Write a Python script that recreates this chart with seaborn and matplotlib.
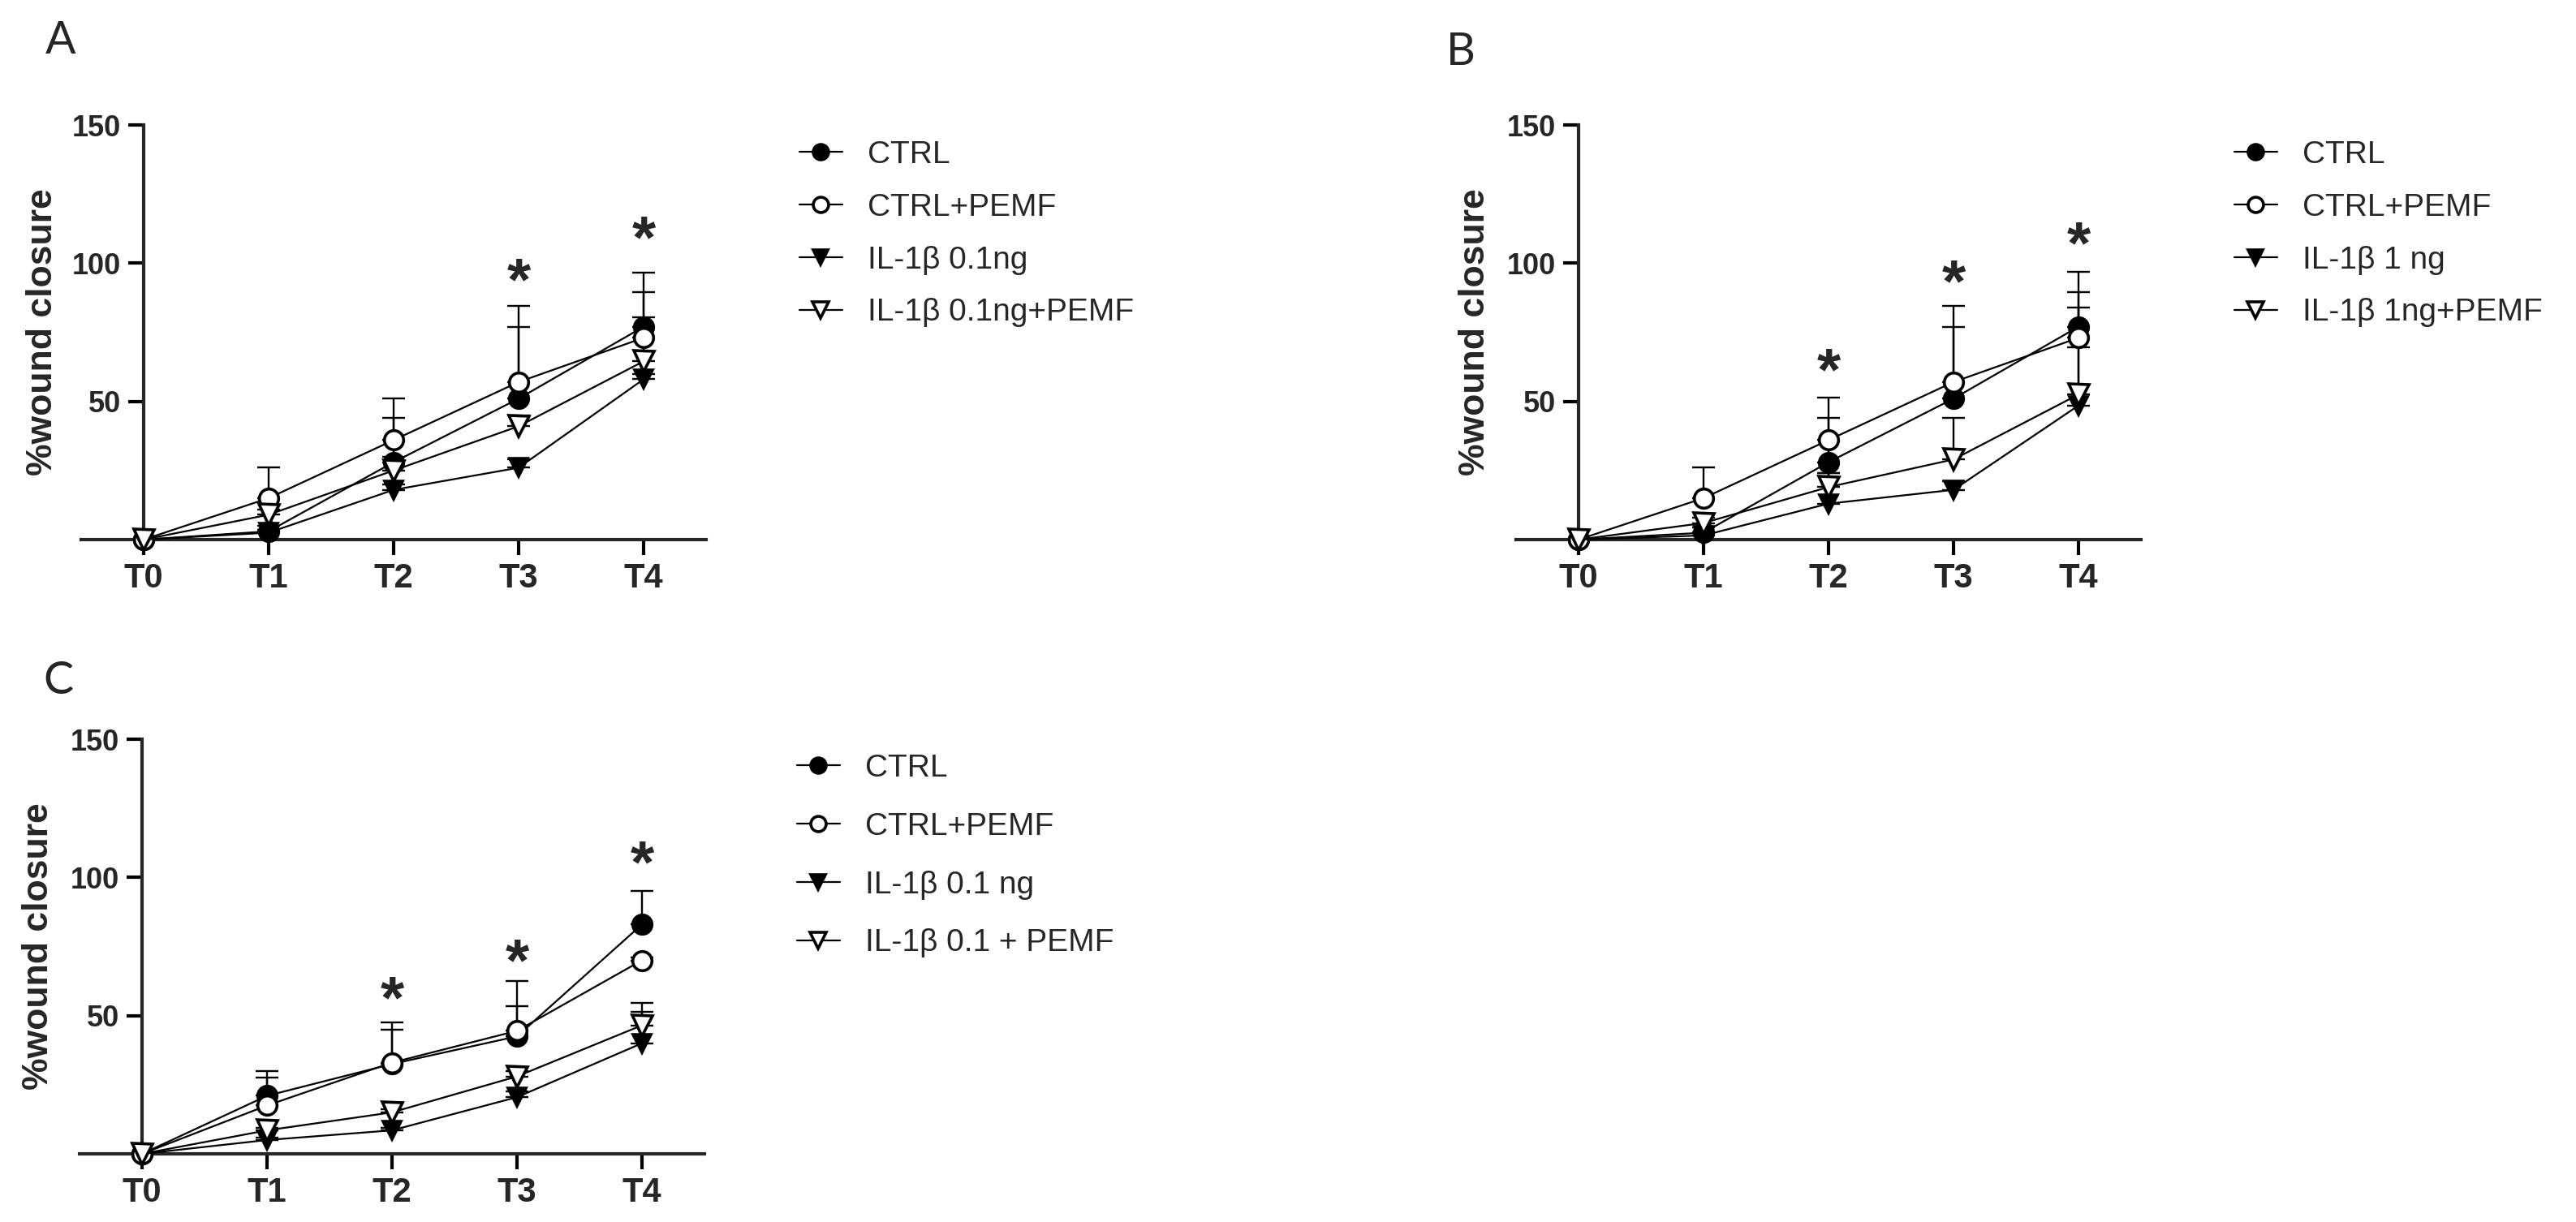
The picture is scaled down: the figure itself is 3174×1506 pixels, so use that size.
import matplotlib
matplotlib.use('Agg')
import matplotlib.pyplot as plt
import seaborn as sns
from matplotlib.transforms import offset_copy

# time points
TIMES = ['T0', 'T1', 'T2', 'T3', 'T4']
POS = [0, 1, 2, 3, 4]

# panel A (IL-1b 0.1 ng)
A_CTRL = [0, 3, 28, 51, 77]
A_CTRL_ERR = [0, 2, 16, 26, 19.5]
A_PEMF = [0, 15, 36, 57, 73]
A_PEMF_ERR = [0, 11, 15, 27.5, 16.5]
A_IL = [0, 2.5, 18, 26, 58]
A_IL_ERR = [0, 1, 2, 3, 2]
A_ILP = [0, 9, 25, 41, 64.5]
A_ILP_ERR = [0, 2, 5, 4, 16]
A_LABELS = ['CTRL', 'CTRL+PEMF', 'IL-1β 0.1ng', 'IL-1β 0.1ng+PEMF']
A_STAR_X = [3, 4]
A_STAR_Y = [96.7, 112]

# panel B (IL-1b 1 ng)
B_CTRL = [0, 2.5, 28, 51, 77]
B_CTRL_ERR = [0, 2, 16, 26, 20]
B_PEMF = [0, 15, 36, 57, 73]
B_PEMF_ERR = [0, 11, 15.5, 27.5, 16.5]
B_IL = [0, 1.5, 13, 18, 48.5]
B_IL_ERR = [0, 1, 11, 3, 21]
B_ILP = [0, 6, 19, 29, 52.5]
B_ILP_ERR = [0, 2, 5, 15, 31.5]
B_LABELS = ['CTRL', 'CTRL+PEMF', 'IL-1β 1 ng', 'IL-1β 1ng+PEMF']
B_STAR_X = [2, 3, 4]
B_STAR_Y = [64, 96, 110]

# panel C (IL-1b 0.1 ng, second experiment)
C_CTRL = [0, 21, 32.5, 42.5, 83]
C_CTRL_ERR = [0, 9, 15, 20, 12]
C_PEMF = [0, 17.5, 33, 44.5, 70]
C_PEMF_ERR = [0, 10, 12, 9, 1]
C_IL = [0, 5, 8.5, 20.5, 40]
C_IL_ERR = [0, 1, 1, 2, 11.5]
C_ILP = [0, 8.5, 15, 28, 46.5]
C_ILP_ERR = [0, 1, 1, 2, 8]
C_LABELS = ['CTRL', 'CTRL+PEMF', 'IL-1β 0.1 ng', 'IL-1β 0.1 + PEMF']
C_STAR_X = [2, 3, 4]
C_STAR_Y = [59, 72.5, 108]

sns.set_style('ticks')
plt.rcParams['font.family'] = ['Liberation Sans', 'DejaVu Sans']

W, H = 3174, 1506
fig = plt.figure(figsize=(W / 100, H / 100), dpi=100)

# marker style per group: marker, face colour, size
STYLES = [('o', 'black', 17), ('o', 'white', 17), ('v', 'black', 16), ('v', 'white', 18)]
STAR_FS = 54


def panel(rect, series, errs, labels, star_x, star_y, letter, letter_xy, label_x, leg_xy, leg_space):
    ax = fig.add_axes(rect)
    # y axis sits on T0, x axis runs a half step beyond both ends
    ax.spines['left'].set_position(('data', 0))
    handles = []
    for k, (vals, err, lab) in enumerate(zip(series, errs, labels)):
        mk, fc, ms = STYLES[k]
        ax.errorbar(POS, vals, yerr=[[0] * len(err), err], fmt='none', ecolor='black',
                    elinewidth=1.7, capsize=10, capthick=1.7, zorder=2, clip_on=False)
        sns.lineplot(x=POS, y=vals, ax=ax, color='black', lw=1.6, marker=mk, mfc=fc, mec='black',
                     mew=2.6, ms=ms, zorder=3 + k * 0.1, clip_on=False, label=lab, legend=False)
        handles.append(ax.lines[-1])

    ax.set_xlim(-0.5, 4.5)
    ax.set_ylim(0, 150)
    ax.set_xticks(POS, TIMES)
    ax.set_yticks([50, 100, 150])
    ax.spines['left'].set_bounds(0, 150)
    sns.despine(ax=ax)
    for s in ['left', 'bottom']:
        ax.spines[s].set_linewidth(3)
    ax.tick_params(length=14, width=3, pad=6, color='black')
    ax.tick_params(axis='x', labelsize=30)
    ax.tick_params(axis='y', labelsize=26)
    for t in ax.get_xticklabels() + ax.get_yticklabels():
        t.set_fontweight('bold')
    ax.set_ylabel('%wound closure', fontsize=32, fontweight='bold', va='center')
    ax.yaxis.set_label_coords(label_x, 0.5)
    ax.set_xlabel('')

    trans = offset_copy(ax.transData, fig=fig, y=-0.45 * STAR_FS, units='points')
    for sx, sy in zip(star_x, star_y):
        ax.text(sx, sy, '*', transform=trans, ha='center', va='baseline',
                fontsize=STAR_FS, fontweight='bold')

    fig.text(letter_xy[0] / W, 1 - letter_xy[1] / H, letter, fontsize=40,
             family=['Lato', 'DejaVu Sans'], ha='center', va='center')

    fig.legend(handles, labels, loc='upper left', bbox_to_anchor=(leg_xy[0] / W, 1 - leg_xy[1] / H),
               frameon=False, borderpad=0, borderaxespad=0, fontsize=28, handlelength=1.35,
               handletextpad=0.8, labelspacing=leg_space, markerscale=0.8)
    return ax


panel([100 / W, 1 - 665 / H, 770 / W, 511 / H],
      [A_CTRL, A_PEMF, A_IL, A_ILP], [A_CTRL_ERR, A_PEMF_ERR, A_IL_ERR, A_ILP_ERR],
      A_LABELS, A_STAR_X, A_STAR_Y, 'A', (75, 50), -0.062, (985, 173), 0.74)
panel([1868 / W, 1 - 665 / H, 770 / W, 511 / H],
      [B_CTRL, B_PEMF, B_IL, B_ILP], [B_CTRL_ERR, B_PEMF_ERR, B_IL_ERR, B_ILP_ERR],
      B_LABELS, B_STAR_X, B_STAR_Y, 'B', (1800, 64), -0.065, (2753, 173), 0.74)
panel([98 / W, 1 - 1422 / H, 770 / W, 511 / H],
      [C_CTRL, C_PEMF, C_IL, C_ILP], [C_CTRL_ERR, C_PEMF_ERR, C_IL_ERR, C_ILP_ERR],
      C_LABELS, C_STAR_X, C_STAR_Y, 'C', (72, 840), -0.066, (982, 929), 0.92)

fig.savefig('out.png', dpi=100, facecolor='white')
